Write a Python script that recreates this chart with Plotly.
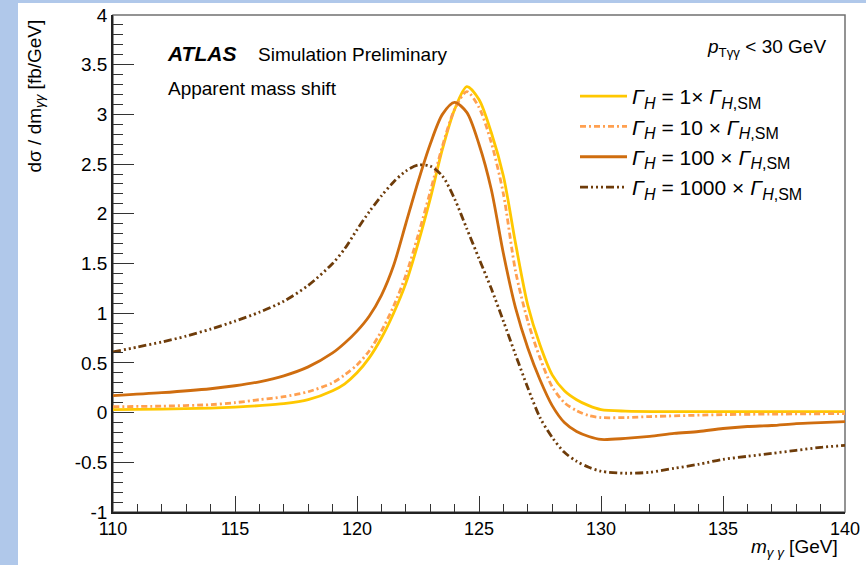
import plotly.graph_objects as go

# ---------------- data ----------------
m_w1 = [110, 112, 114, 115, 116, 117, 118, 119, 119.5, 120, 120.5, 121, 121.5, 122, 122.5,
        123, 123.5, 124, 124.5, 125, 125.5, 126, 126.5, 127, 127.5, 128, 128.5, 129, 129.5,
        130, 131, 133, 135, 137, 140]
v_w1 = [0.03, 0.035, 0.045, 0.055, 0.07, 0.09, 0.13, 0.22, 0.29, 0.40, 0.55, 0.75, 1.00, 1.30, 1.70,
        2.15, 2.65, 3.05, 3.28, 3.15, 2.82, 2.38, 1.70, 1.08, 0.68, 0.38, 0.22, 0.13, 0.07,
        0.03, 0.015, 0.01, 0.01, 0.01, 0.01]

m_w10 = [110, 112, 114, 115, 116, 117, 118, 119, 119.5, 120, 120.5, 121, 121.5, 122, 122.5,
         123, 123.5, 124, 124.5, 125, 125.5, 126, 126.5, 127, 127.5, 128, 128.5, 129, 129.5,
         130, 131, 132, 135, 137, 140]
v_w10 = [0.06, 0.065, 0.08, 0.10, 0.13, 0.16, 0.21, 0.30, 0.38, 0.48, 0.62, 0.82, 1.07, 1.38, 1.78,
         2.22, 2.68, 3.05, 3.23, 3.07, 2.72, 2.20, 1.42, 0.92, 0.55, 0.26, 0.10, 0.02, -0.03,
         -0.05, -0.05, -0.04, -0.02, -0.015, -0.01]

m_w100 = [110, 112, 114, 115, 116, 117, 118, 119, 119.5, 120, 120.5, 121, 121.5, 122, 122.5,
          123, 123.5, 124, 124.5, 125, 125.5, 126, 126.5, 127, 127.5, 128, 128.5, 129, 129.5,
          130, 131, 132, 133, 134, 135, 136, 137, 138, 139, 140]
v_w100 = [0.17, 0.20, 0.24, 0.27, 0.31, 0.37, 0.46, 0.60, 0.70, 0.82, 0.97, 1.18, 1.48, 1.90, 2.32,
          2.70, 3.00, 3.12, 3.02, 2.70, 2.25, 1.60, 1.05, 0.65, 0.33, 0.07, -0.10, -0.19, -0.24,
          -0.27, -0.26, -0.24, -0.21, -0.19, -0.16, -0.14, -0.13, -0.11, -0.10, -0.09]

m_w1000 = [110, 111, 112, 113, 114, 115, 116, 117, 118, 119, 119.5, 120, 120.5, 121, 121.5, 122,
           122.5, 123, 123.5, 124, 124.5, 125, 125.5, 126, 126.5, 127, 127.5, 128, 128.5, 129,
           129.5, 130, 131, 132, 133, 134, 135, 136, 137, 138, 139, 140]
v_w1000 = [0.61, 0.66, 0.71, 0.77, 0.84, 0.92, 1.01, 1.12, 1.28, 1.50, 1.65, 1.84, 2.02, 2.18, 2.32, 2.43,
           2.49, 2.48, 2.38, 2.15, 1.85, 1.55, 1.25, 0.92, 0.58, 0.25, -0.05, -0.25, -0.40, -0.49,
           -0.55, -0.59, -0.61, -0.60, -0.56, -0.52, -0.47, -0.44, -0.41, -0.38, -0.35, -0.33]

SUB = '<sub><span style="font-size:16px">{}</span></sub>'
series_names = [
    "<i>Γ</i>" + SUB.format("<i>H</i>") + " = 1× <i>Γ</i>" + SUB.format("<i>H</i>,SM"),
    "<i>Γ</i>" + SUB.format("<i>H</i>") + " = 10 × <i>Γ</i>" + SUB.format("<i>H</i>,SM"),
    "<i>Γ</i>" + SUB.format("<i>H</i>") + " = 100 × <i>Γ</i>" + SUB.format("<i>H</i>,SM"),
    "<i>Γ</i>" + SUB.format("<i>H</i>") + " = 1000 × <i>Γ</i>" + SUB.format("<i>H</i>,SM"),
]

x_tickvals = [110, 115, 120, 125, 130, 135, 140]
x_ticktext = ["110", "115", "120", "125", "130", "135", "140"]
y_tickvals = [-1, -0.5, 0, 0.5, 1, 1.5, 2, 2.5, 3, 3.5, 4]
y_ticktext = ["-1", "-0.5", "0", "0.5", "1", "1.5", "2", "2.5", "3", "3.5", "4"]

# ---------------- styling ----------------
colors = ["#FFC800", "#FFA050", "#CF6D0F", "#6E3C0A"]
dashes = ["solid", "6px,3px,2px,3px", "solid", "8px,3px,2px,3px,2px,3px,2px,3px"]
FONT = "Liberation Sans, Arial, Helvetica, sans-serif"
BLUE = "#B0C8EA"

W, H = 866, 565
L, R, T, B = 113, 845, 15, 512


def px(xp):
    return (xp - L) / (R - L)


def py(yp):
    return (B - yp) / (B - T)


fig = go.Figure()
for xs, ys, name, col, dash in zip([m_w1, m_w10, m_w100, m_w1000],
                                   [v_w1, v_w10, v_w100, v_w1000],
                                   series_names, colors, dashes):
    fig.add_trace(go.Scatter(x=xs, y=ys, mode="lines", name=name,
                             line=dict(color=col, width=2.8, dash=dash, shape="spline", smoothing=0.8)))

# page background: blue strip left/top, white page
fig.add_shape(type="rect", xref="paper", yref="paper",
              x0=px(18), x1=px(W + 5), y0=py(H + 5), y1=py(3),
              fillcolor="white", line=dict(width=0), layer="below")
# frame (top/right grey)
fig.add_shape(type="rect", xref="paper", yref="paper", x0=0, x1=1, y0=0, y1=1,
              line=dict(color="#707070", width=1.5), layer="below")

fig.update_layout(
    template="none",
    width=W, height=H,
    margin=dict(l=L, r=W - R, t=T, b=H - B, pad=0, autoexpand=False),
    paper_bgcolor=BLUE,
    plot_bgcolor="white",
    font=dict(family=FONT, color="black"),
    showlegend=True,
    legend=dict(x=px(575), y=py(76), xanchor="left", yanchor="top", itemwidth=47,
                bgcolor="rgba(0,0,0,0)", font=dict(size=21, family=FONT),
                tracegroupgap=0),
)

fig.update_xaxes(range=[110, 140], tickvals=x_tickvals, ticktext=x_ticktext, automargin=False,
                 ticks="inside", ticklen=16, tickwidth=1, tickcolor="#333",
                 minor=dict(dtick=1, ticks="inside", ticklen=8, tickwidth=1, tickcolor="#333"),
                 showgrid=False, zeroline=False, showline=True, linecolor="#222", linewidth=1.5,
                 tickfont=dict(size=18, family=FONT))
fig.update_yaxes(range=[-1, 4], tickvals=y_tickvals, ticktext=y_ticktext, automargin=False,
                 ticks="inside", ticklen=21, tickwidth=1, tickcolor="#333",
                 minor=dict(dtick=0.1, ticks="inside", ticklen=10, tickwidth=1, tickcolor="#333"),
                 showgrid=False, zeroline=False, showline=True, linecolor="#222", linewidth=1.5,
                 tickfont=dict(size=19, family=FONT))

ann = [
    dict(x=px(165), y=py(54), text="<b><i>ATLAS</i></b>", font=dict(size=21),
         xanchor="left", yanchor="middle"),
    dict(x=px(256), y=py(55), text="Simulation Preliminary", font=dict(size=19),
         xanchor="left", yanchor="middle"),
    dict(x=px(166), y=py(89), text="Apparent mass shift", font=dict(size=19),
         xanchor="left", yanchor="middle"),
    dict(x=px(828), y=py(48), text="<i>p</i><sub>Tγγ</sub> < 30 GeV", font=dict(size=19),
         xanchor="right", yanchor="middle"),
    dict(x=px(840), y=py(548), text="<i>m</i><sub><i>γ γ</i></sub> [GeV]", font=dict(size=19),
         xanchor="right", yanchor="middle"),
    dict(x=px(35), y=py(18), text="dσ / dm<sub><i>γγ</i></sub> [fb/GeV]", font=dict(size=19),
         textangle=-90, xanchor="center", yanchor="top"),
]
for a in ann:
    fig.add_annotation(xref="paper", yref="paper", showarrow=False, **a)

fig.write_html("out.html", config={"displayModeBar": False},
               post_script="document.body.style.margin='0';document.body.style.padding='0';"
                           "document.body.style.background='" + BLUE + "';")
